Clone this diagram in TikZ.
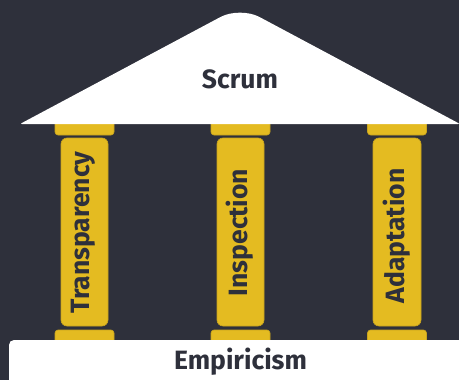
\documentclass[tikz,border=0pt]{standalone}
\usepackage{fontspec}
\setmainfont{Fira Sans}
\definecolor{bg}{HTML}{2E303B}
\definecolor{gold}{HTML}{E4BB21}
\definecolor{goldedge}{HTML}{C9A41E}
\tikzset{
  part/.style={fill=gold, draw=goldedge, line width=0.6pt, rounded corners=3pt},
  shaft/.style={fill=gold, draw=goldedge, line width=0.6pt, rounded corners=6pt},
  lbl/.style={text=bg, font=\bfseries\fontsize{26.5}{30}\selectfont, inner sep=0pt, anchor=base},
}
\begin{document}
\begin{tikzpicture}[x=1pt, y=-1pt]
\useasboundingbox (0,0) rectangle (459,380);
\fill[bg] (0,0) rectangle (459,380);
% capitals and bases
\foreach \c in {84.5, 240.5, 397}{
  \draw[part] (\c-29.5,116) rectangle (\c+29.5,135);
  \draw[part] (\c-29.5,330) rectangle (\c+29.5,350);
}
% shafts
\draw[shaft] (61,138) rectangle (108,326);
\draw[shaft] (217,138) rectangle (264,326);
\draw[shaft] (373,138) rectangle (421,326);
\node[lbl, rotate=90] (t) at (89.5,232.5) {Transparency};
\node[lbl, rotate=90] (i) at (247,232.5) {Inspection};
\node[lbl, rotate=90] (ad) at (404,236) {Adaptation};
% roof
\fill[white] (20,124) [rounded corners=22pt] -- (240,6.6) [rounded corners=2pt] -- (460,124) -- cycle;
\node[lbl] (s) at (240,88.5) {Scrum};
% base
\fill[white, rounded corners=5pt] (9,340) rectangle (472,395);
\node[lbl] (e) at (240.5,369) {Empiricism};
\end{tikzpicture}
\end{document}
